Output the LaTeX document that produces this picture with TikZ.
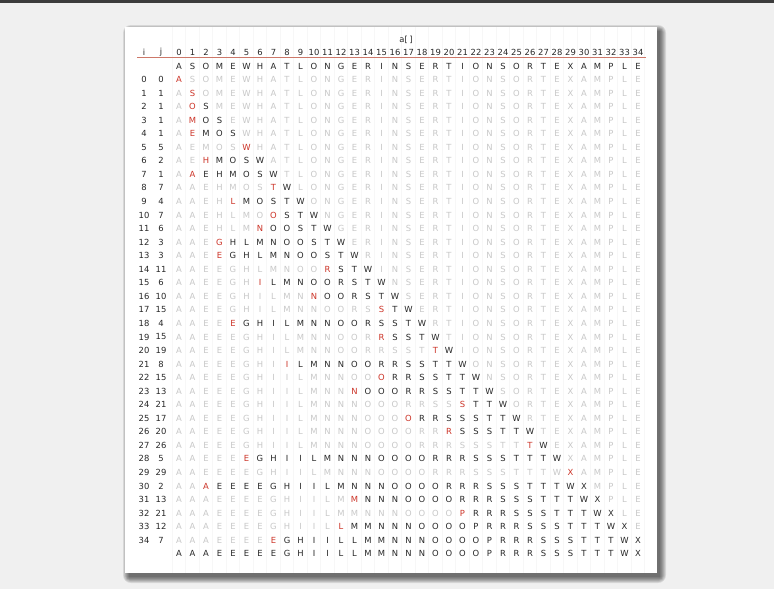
\documentclass[tikz,border=0pt]{standalone}
\usepackage{fontspec}
\setmainfont{DejaVu Sans}
\tikzset{every picture/.style={line width=0.75pt}}
\definecolor{inkred}{RGB}{204,52,40}
\definecolor{fadegray}{RGB}{200,200,200}
\definecolor{inkblack}{RGB}{40,40,40}
\definecolor{pagebg}{RGB}{240,240,240}
\definecolor{ruleline}{RGB}{205,120,105}
\definecolor{guide}{RGB}{247,247,247}

% input array and sorted result
\def\orig{A,S,O,M,E,W,H,A,T,L,O,N,G,E,R,I,N,S,E,R,T,I,O,N,S,O,R,T,E,X,A,M,P,L,E}
\def\sorted{A,A,A,E,E,E,E,E,G,H,I,I,L,L,M,M,N,N,N,O,O,O,O,P,R,R,R,S,S,S,T,T,T,W,X}

\begin{document}
\begin{tikzpicture}[x=0.75pt,y=0.75pt,yscale=-1,xscale=1,
  cell/.style={inner sep=0.75pt, font=\fontsize{6.3}{7}\selectfont},
  faded/.style={cell, text=fadegray},
  moved/.style={cell, text=inkred},
  kept/.style={cell, text=inkblack}]
		\useasboundingbox (0,0) rectangle (774,589);
		\fill [pagebg] (0,0) rectangle (774,589);
		\draw [line width=1.5, color={rgb,255:red,60;green,60;blue,60}] (0,1.5) -- (774,1.5);
		
		%Shape: card shadow
		\foreach \s in {0,...,6}
			\fill [black, opacity=0.1, rounded corners=\s] ({129-\s},{31-\s}) rectangle ({660+\s},{577+\s});
		%Shape: card
		\fill [white] (125,27) rectangle (657,573);
		\foreach \k in {0,...,35}
			\draw [guide, line width=0.5] ({172.25+13.5*\k},27) -- ({172.25+13.5*\k},573);
		
		% Text Node
		\node [kept] (arr) at (406,40) {a[\,]};
		\node [kept] (hi) at (144,52.5) {i};
		\node [kept] (hj) at (161,52.5) {j};
		\foreach \k in {0,...,34}
			\node [kept] (h\k) at ({179+13.5*\k},52.5) {\k};
		%Straight Lines
		\draw [ruleline] (137,57.5) -- (646,57.5);
		
		% input row
		\foreach \c [count=\k from 0] in \orig
			\node [kept] (in-\k) at ({179+13.5*\k},66) {\c};
		
		% one row per i: sorted prefix, then untouched entries
		\foreach \i/\j/\pre in {
			0/0/{A},
			1/1/{A,S},
			2/1/{A,O,S},
			3/1/{A,M,O,S},
			4/1/{A,E,M,O,S},
			5/5/{A,E,M,O,S,W},
			6/2/{A,E,H,M,O,S,W},
			7/1/{A,A,E,H,M,O,S,W},
			8/7/{A,A,E,H,M,O,S,T,W},
			9/4/{A,A,E,H,L,M,O,S,T,W},
			10/7/{A,A,E,H,L,M,O,O,S,T,W},
			11/6/{A,A,E,H,L,M,N,O,O,S,T,W},
			12/3/{A,A,E,G,H,L,M,N,O,O,S,T,W},
			13/3/{A,A,E,E,G,H,L,M,N,O,O,S,T,W},
			14/11/{A,A,E,E,G,H,L,M,N,O,O,R,S,T,W},
			15/6/{A,A,E,E,G,H,I,L,M,N,O,O,R,S,T,W},
			16/10/{A,A,E,E,G,H,I,L,M,N,N,O,O,R,S,T,W},
			17/15/{A,A,E,E,G,H,I,L,M,N,N,O,O,R,S,S,T,W},
			18/4/{A,A,E,E,E,G,H,I,L,M,N,N,O,O,R,S,S,T,W},
			19/15/{A,A,E,E,E,G,H,I,L,M,N,N,O,O,R,R,S,S,T,W},
			20/19/{A,A,E,E,E,G,H,I,L,M,N,N,O,O,R,R,S,S,T,T,W},
			21/8/{A,A,E,E,E,G,H,I,I,L,M,N,N,O,O,R,R,S,S,T,T,W},
			22/15/{A,A,E,E,E,G,H,I,I,L,M,N,N,O,O,O,R,R,S,S,T,T,W},
			23/13/{A,A,E,E,E,G,H,I,I,L,M,N,N,N,O,O,O,R,R,S,S,T,T,W},
			24/21/{A,A,E,E,E,G,H,I,I,L,M,N,N,N,O,O,O,R,R,S,S,S,T,T,W},
			25/17/{A,A,E,E,E,G,H,I,I,L,M,N,N,N,O,O,O,O,R,R,S,S,S,T,T,W},
			26/20/{A,A,E,E,E,G,H,I,I,L,M,N,N,N,O,O,O,O,R,R,R,S,S,S,T,T,W},
			27/26/{A,A,E,E,E,G,H,I,I,L,M,N,N,N,O,O,O,O,R,R,R,S,S,S,T,T,T,W},
			28/5/{A,A,E,E,E,E,G,H,I,I,L,M,N,N,N,O,O,O,O,R,R,R,S,S,S,T,T,T,W},
			29/29/{A,A,E,E,E,E,G,H,I,I,L,M,N,N,N,O,O,O,O,R,R,R,S,S,S,T,T,T,W,X},
			30/2/{A,A,A,E,E,E,E,G,H,I,I,L,M,N,N,N,O,O,O,O,R,R,R,S,S,S,T,T,T,W,X},
			31/13/{A,A,A,E,E,E,E,G,H,I,I,L,M,M,N,N,N,O,O,O,O,R,R,R,S,S,S,T,T,T,W,X},
			32/21/{A,A,A,E,E,E,E,G,H,I,I,L,M,M,N,N,N,O,O,O,O,P,R,R,R,S,S,S,T,T,T,W,X},
			33/12/{A,A,A,E,E,E,E,G,H,I,I,L,L,M,M,N,N,N,O,O,O,O,P,R,R,R,S,S,S,T,T,T,W,X},
			34/7/{A,A,A,E,E,E,E,E,G,H,I,I,L,L,M,M,N,N,N,O,O,O,O,P,R,R,R,S,S,S,T,T,T,W,X}}
		{
			\node [kept] (i\i) at (144,{79.5+13.55*\i}) {\i};
			\node [kept] (j\i) at (161,{79.5+13.55*\i}) {\j};
			\foreach \c [count=\k from 0] in \pre {
				\ifnum\k<\j\relax \def\st{faded}\else
				\ifnum\k=\j\relax \def\st{moved}\else \def\st{kept}\fi\fi
				\node [\st] (a\i-\k) at ({179+13.5*\k},{79.5+13.55*\i}) {\c};
			}
			\foreach \c [count=\k from 0] in \orig {
				\ifnum\k>\i\relax
				\node [faded] (a\i-\k) at ({179+13.5*\k},{79.5+13.55*\i}) {\c};
				\fi
			}
		}
		
		% sorted row
		\foreach \c [count=\k from 0] in \sorted
			\node [kept] (out-\k) at ({179+13.5*\k},553.5) {\c};
		
	\end{tikzpicture}
\end{document}
